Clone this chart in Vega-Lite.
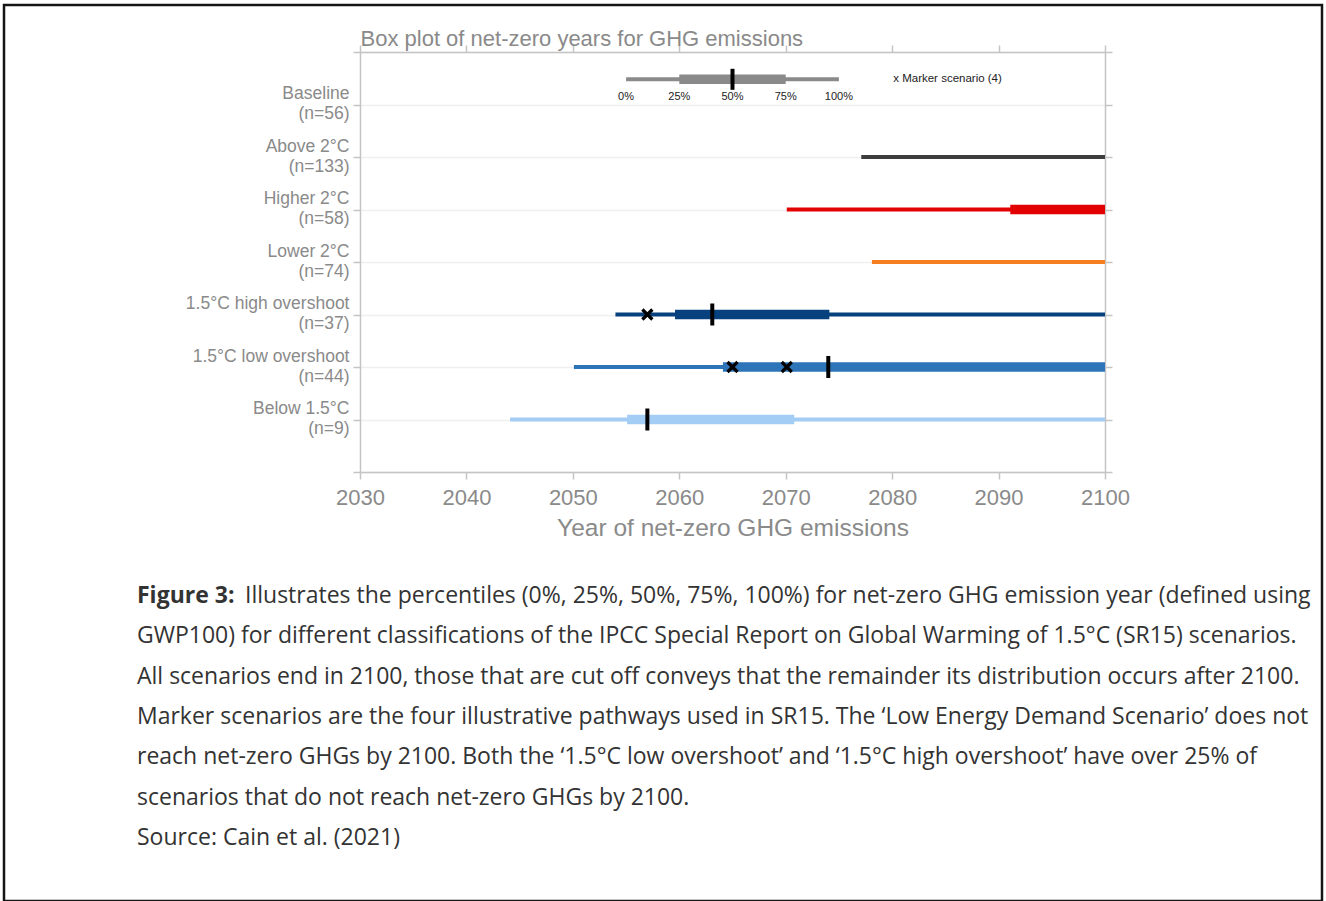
{
  "$schema": "https://vega.github.io/schema/vega-lite/v6.json",
  "width": 1318,
  "height": 896,
  "autosize": {"type": "none"},
  "padding": {"left": 4, "top": 5, "right": 4, "bottom": 0},
  "background": "white",
  "config": {
    "view": {"stroke": "#151515", "strokeWidth": 2.5},
    "axis": {
      "domainColor": "#c4c4c4", "domainWidth": 1.5,
      "tickColor": "#c4c4c4", "tickWidth": 1.5, "tickSize": 7,
      "labelFont": "Liberation Sans", "titleFont": "Liberation Sans",
      "labelColor": "#8a8a8a", "titleColor": "#8a8a8a", "titleFontWeight": "normal",
      "grid": false
    },
    "text": {"font": "Liberation Sans"}
  },
  "layer": [
    {
      "data": {"values": [
        {"group": "Above 2°C", "row": 2, "min": 2077.1, "max": 2100},
        {"group": "Higher 2°C", "row": 3, "min": 2070.1, "q1": 2091.1, "q3": 2100, "max": 2100},
        {"group": "Lower 2°C", "row": 4, "min": 2078.1, "max": 2100},
        {"group": "1.5°C high overshoot", "row": 5, "min": 2054.0, "q1": 2059.6, "median": 2063.1, "q3": 2074.1, "max": 2100},
        {"group": "1.5°C low overshoot", "row": 6, "min": 2050.1, "q1": 2064.1, "median": 2074.0, "q3": 2100, "max": 2100},
        {"group": "Below 1.5°C", "row": 7, "min": 2044.1, "q1": 2055.1, "median": 2057.0, "q3": 2070.8, "max": 2100}
      ]},
      "layer": [
        {
          "mark": {"type": "rule", "strokeWidth": 4, "strokeCap": "butt"},
          "encoding": {
            "x": {"field": "min", "type": "quantitative",
              "scale": {"domain": [2030, 2100], "range": [356, 1101], "nice": false, "zero": false},
              "axis": {"orient": "bottom", "offset": -429, "values": [2030, 2040, 2050, 2060, 2070, 2080, 2090, 2100], "format": "d",
                "labelFontSize": 22, "labelPadding": 8, "labelFlush": false, "labelOverlap": false,
                "title": "Year of net-zero GHG emissions", "titleFontSize": 24.5, "titlePadding": 8}},
            "x2": {"field": "max"},
            "y": {"field": "row", "type": "quantitative",
              "scale": {"domain": [0, 8], "range": [47, 467], "nice": false, "zero": false},
              "axis": {"orient": "left", "offset": -356, "values": [0, 1, 2, 3, 4, 5, 6, 7, 8],
                "labelExpr": "datum.value==1?['Baseline','(n=56)']:datum.value==2?['Above 2°C','(n=133)']:datum.value==3?['Higher 2°C','(n=58)']:datum.value==4?['Lower 2°C','(n=74)']:datum.value==5?['1.5°C high overshoot','(n=37)']:datum.value==6?['1.5°C low overshoot','(n=44)']:datum.value==7?['Below 1.5°C','(n=9)']:''",
                "labelFontSize": 17.5, "labelLineHeight": 20, "labelPadding": 4, "labelBaseline": "middle", "labelOffset": -11, "labelOverlap": false, "labelFlush": false,
                "grid": true, "gridColor": "#efefef", "gridWidth": 1.5, "title": null}},
            "color": {"field": "group", "type": "nominal",
              "scale": {"domain": ["Above 2°C", "Higher 2°C", "Lower 2°C", "1.5°C high overshoot", "1.5°C low overshoot", "Below 1.5°C"],
                "range": ["#3d3d3d", "#e30000", "#f57e1e", "#07427f", "#2e74b8", "#a4cdf6"]},
              "legend": null}
          }
        },
        {
          "mark": {"type": "rule", "strokeWidth": 9.5, "strokeCap": "butt"},
          "encoding": {
            "x": {"field": "q1", "type": "quantitative", "axis": null},
            "x2": {"field": "q3"},
            "y": {"field": "row", "type": "quantitative", "axis": null},
            "color": {"field": "group", "type": "nominal", "legend": null}
          }
        },
        {
          "mark": {"type": "tick", "orient": "vertical", "color": "black", "thickness": 4, "size": 22, "opacity": 1},
          "encoding": {
            "x": {"field": "median", "type": "quantitative", "axis": null},
            "y": {"field": "row", "type": "quantitative", "axis": null}
          }
        },
        {
          "data": {"values": [
            {"group": "1.5°C high overshoot", "row": 5, "year": 2057.0},
            {"group": "1.5°C low overshoot", "row": 6, "year": 2065.0},
            {"group": "1.5°C low overshoot", "row": 6, "year": 2070.1}
          ]},
          "mark": {"type": "point", "shape": "M-1,-1L1,1M-1,1L1,-1", "filled": false, "color": "black", "strokeWidth": 3.2, "size": 100, "opacity": 1},
          "encoding": {
            "x": {"field": "year", "type": "quantitative", "axis": null},
            "y": {"field": "row", "type": "quantitative", "axis": null}
          }
        },
        {
          "data": {"values": [{"p0": 2055, "p25": 2060, "p50": 2065, "p75": 2070, "p100": 2075, "pos": 0.52}]},
          "mark": {"type": "rule", "strokeWidth": 4, "strokeCap": "butt", "color": "#8a8a8a"},
          "encoding": {
            "x": {"field": "p0", "type": "quantitative",
              "axis": {"orient": "top", "offset": -47, "values": [2030, 2040, 2050, 2060, 2070, 2080, 2090, 2100], "labels": false,
                "title": "Box plot of net-zero years for GHG emissions", "titleFontSize": 22, "titleAnchor": "start", "titleAlign": "left", "titlePadding": -6}},
            "x2": {"field": "p100"},
            "y": {"field": "pos", "type": "quantitative",
              "axis": {"orient": "right", "offset": -217, "values": [0, 1, 2, 3, 4, 5, 6, 7, 8], "labels": false, "title": null}}
          }
        },
        {
          "data": {"values": [{"p0": 2055, "p25": 2060, "p50": 2065, "p75": 2070, "p100": 2075, "pos": 0.52}]},
          "mark": {"type": "rule", "strokeWidth": 9.5, "strokeCap": "butt", "color": "#8a8a8a"},
          "encoding": {
            "x": {"field": "p25", "type": "quantitative", "axis": null},
            "x2": {"field": "p75"},
            "y": {"field": "pos", "type": "quantitative", "axis": null}
          }
        },
        {
          "data": {"values": [{"p0": 2055, "p25": 2060, "p50": 2065, "p75": 2070, "p100": 2075, "pos": 0.52}]},
          "mark": {"type": "tick", "orient": "vertical", "color": "black", "thickness": 4, "size": 21, "opacity": 1},
          "encoding": {
            "x": {"field": "p50", "type": "quantitative", "axis": null},
            "y": {"field": "pos", "type": "quantitative", "axis": null}
          }
        },
        {
          "data": {"values": [
            {"year": 2055, "pos": 0.85, "label": "0%"},
            {"year": 2060, "pos": 0.85, "label": "25%"},
            {"year": 2065, "pos": 0.85, "label": "50%"},
            {"year": 2070, "pos": 0.85, "label": "75%"},
            {"year": 2075, "pos": 0.85, "label": "100%"}
          ]},
          "mark": {"type": "text", "fontSize": 11, "color": "#222222", "align": "center", "baseline": "middle"},
          "encoding": {
            "x": {"field": "year", "type": "quantitative", "axis": null},
            "y": {"field": "pos", "type": "quantitative", "axis": null},
            "text": {"field": "label"}
          }
        },
        {
          "data": {"values": [{"year": 2080.1, "pos": 0.52, "label": "x Marker scenario (4)"}]},
          "mark": {"type": "text", "fontSize": 11.5, "color": "#222222", "align": "left", "baseline": "middle"},
          "encoding": {
            "x": {"field": "year", "type": "quantitative", "axis": null},
            "y": {"field": "pos", "type": "quantitative", "axis": null},
            "text": {"field": "label"}
          }
        }
      ],
      "resolve": {"axis": {"x": "independent", "y": "independent"}}
    },
    {
      "data": {"values": [
        {"line": 1, "col": 0, "part": "label", "text": "Figure 3:"},
        {"line": 1, "col": 0, "part": "lead", "text": "Illustrates the percentiles (0%, 25%, 50%, 75%, 100%) for net-zero GHG emission year (defined using"},
        {"line": 2, "col": 0, "part": "body", "text": "GWP100) for different classifications of the IPCC Special Report on Global Warming of 1.5°C (SR15) scenarios."},
        {"line": 3, "col": 0, "part": "body", "text": "All scenarios end in 2100, those that are cut off conveys that the remainder its distribution occurs after 2100."},
        {"line": 4, "col": 0, "part": "body", "text": "Marker scenarios are the four illustrative pathways used in SR15. The ‘Low Energy Demand Scenario’ does not"},
        {"line": 5, "col": 0, "part": "body", "text": "reach net-zero GHGs by 2100. Both the ‘1.5°C low overshoot’ and ‘1.5°C high overshoot’ have over 25% of"},
        {"line": 6, "col": 0, "part": "body", "text": "scenarios that do not reach net-zero GHGs by 2100."},
        {"line": 7, "col": 0, "part": "body", "text": "Source: Cain et al. (2021)"}
      ]},
      "layer": [
        {
          "transform": [{"filter": "datum.part === 'label'"}],
          "mark": {"type": "text", "font": "Open Sans", "fontSize": 23, "fontWeight": "bold", "color": "#333333", "align": "left", "baseline": "middle"},
          "encoding": {
            "x": {"field": "col", "type": "quantitative", "scale": {"domain": [0, 1], "range": [133, 1318]}, "axis": null},
            "y": {"field": "line", "type": "quantitative", "scale": {"domain": [1, 7], "range": [591, 833], "nice": false, "zero": false}, "axis": null},
            "text": {"field": "text"}
          }
        },
        {
          "transform": [{"filter": "datum.part === 'lead'"}],
          "mark": {"type": "text", "font": "Open Sans", "fontSize": 23, "color": "#333333", "align": "left", "baseline": "middle", "dx": 108},
          "encoding": {
            "x": {"field": "col", "type": "quantitative", "axis": null},
            "y": {"field": "line", "type": "quantitative", "axis": null},
            "text": {"field": "text"}
          }
        },
        {
          "transform": [{"filter": "datum.part === 'body'"}],
          "mark": {"type": "text", "font": "Open Sans", "fontSize": 23, "color": "#333333", "align": "left", "baseline": "middle"},
          "encoding": {
            "x": {"field": "col", "type": "quantitative", "axis": null},
            "y": {"field": "line", "type": "quantitative", "axis": null},
            "text": {"field": "text"}
          }
        }
      ]
    }
  ],
  "resolve": {"scale": {"x": "independent", "y": "independent"}}
}
